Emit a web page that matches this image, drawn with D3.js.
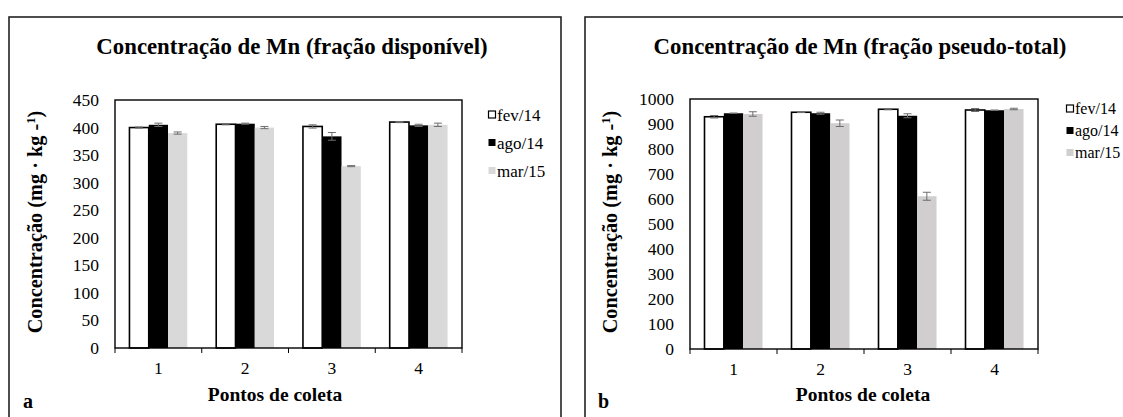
<!DOCTYPE html>
<html>
<head>
<meta charset="utf-8">
<script src="https://cdn.jsdelivr.net/npm/d3@7"></script>
<style>
  html, body { margin: 0; padding: 0; background: #fff; }
  svg { display: block; }
</style>
</head>
<body>
<svg id="chart" width="1123" height="417"></svg>
<script>
// Sampling points and sampling campaigns
const categories = ["1", "2", "3", "4"];
const seriesNames = ["fev/14", "ago/14", "mar/15"];

// Mn, available fraction (mg/kg): means and standard deviations
const dispFev = [400, 406, 402, 410];
const dispAgo = [405, 407, 384, 404];
const dispMar = [390, 400, 330, 405];
const dispFevErr = [1, 1, 3, 1];
const dispAgoErr = [3, 1, 7, 2];
const dispMarErr = [2, 2, 1, 3];
const dispTicks = [0, 50, 100, 150, 200, 250, 300, 350, 400, 450];

// Mn, pseudo-total fraction (mg/kg): means and standard deviations
const totFev = [929, 947, 959, 956];
const totAgo = [943, 943, 933, 955];
const totMar = [940, 903, 611, 960];
const totFevErr = [5, 1, 2, 6];
const totAgoErr = [1, 4, 8, 1];
const totMarErr = [9, 13, 16, 3];
const totTicks = [0, 100, 200, 300, 400, 500, 600, 700, 800, 900, 1000];

const FONT = "'Liberation Serif', 'Times New Roman', Tinos, 'DejaVu Serif', serif";

const svg = d3.select("#chart").style("font-family", FONT);

function label(sel) {
  return sel.style("font-family", FONT).attr("fill", "#000");
}

function drawPanel(opt) {
  const g = svg.append("g");

  // panel frame
  g.append("rect")
    .attr("x", opt.box[0]).attr("y", opt.box[1])
    .attr("width", opt.box[2]).attr("height", opt.box[3])
    .attr("fill", "none").attr("stroke", "#222").attr("stroke-width", 1.6);

  const x = d3.scaleBand().domain(categories).range([opt.left, opt.right]).padding(0);
  const xs = d3.scaleBand().domain(seriesNames).range([0, x.bandwidth()])
    .paddingInner(0).paddingOuter(0.75);
  const y = d3.scaleLinear().domain([0, opt.max]).range([opt.bottom, opt.top]);

  const fills = ["#ffffff", "#000000", opt.gray];
  const rows = categories.map((c, i) => ({
    cat: c,
    vals: opt.series.map((s, k) => ({ name: seriesNames[k], v: s[i], e: opt.errs[k][i], k }))
  }));

  // bars
  const grp = g.selectAll("g.cat").data(rows).join("g")
    .attr("transform", d => `translate(${x(d.cat)},0)`);

  grp.selectAll("rect").data(d => d.vals).join("rect")
    .attr("x", d => xs(d.name))
    .attr("y", d => y(d.v))
    .attr("width", xs.bandwidth())
    .attr("height", d => y(0) - y(d.v))
    .attr("fill", d => fills[d.k])
    .attr("stroke", d => d.k === 0 ? "#000" : "none")
    .attr("stroke-width", 1.6);

  // error bars
  const eb = grp.selectAll("g.err").data(d => d.vals).join("g")
    .attr("stroke", "#6e6e6e").attr("stroke-width", 1);
  eb.append("line")
    .attr("x1", d => xs(d.name) + xs.bandwidth() / 2)
    .attr("x2", d => xs(d.name) + xs.bandwidth() / 2)
    .attr("y1", d => y(d.v - d.e)).attr("y2", d => y(d.v + d.e));
  [1, -1].forEach(sgn => {
    eb.append("line")
      .attr("x1", d => xs(d.name) + xs.bandwidth() / 2 - 4)
      .attr("x2", d => xs(d.name) + xs.bandwidth() / 2 + 4)
      .attr("y1", d => y(d.v + sgn * d.e)).attr("y2", d => y(d.v + sgn * d.e));
  });

  // plot area frame
  g.append("rect")
    .attr("x", opt.left).attr("y", opt.top)
    .attr("width", opt.right - opt.left).attr("height", opt.bottom - opt.top)
    .attr("fill", "none").attr("stroke", "#000").attr("stroke-width", 1.4);

  // category boundary ticks on the x axis
  const bounds = categories.map(c => x(c)).concat([x(categories[categories.length - 1]) + x.bandwidth()]);
  g.selectAll("line.xt").data(bounds).join("line")
    .attr("x1", d => d).attr("x2", d => d)
    .attr("y1", opt.bottom).attr("y2", opt.bottom + 5)
    .attr("stroke", "#000").attr("stroke-width", 1);

  // x tick labels
  label(g.selectAll("text.xl").data(categories).join("text"))
    .attr("x", d => x(d) + x.bandwidth() / 2)
    .attr("y", opt.bottom + 26)
    .attr("text-anchor", "middle")
    .style("font-size", "17.5px")
    .text(d => d);

  // y tick labels
  label(g.selectAll("text.yl").data(opt.ticks).join("text"))
    .attr("x", opt.left - 16)
    .attr("y", d => y(d))
    .attr("dy", "0.34em")
    .attr("text-anchor", "end")
    .style("font-size", "17.5px")
    .text(d => d);

  // title
  label(g.append("text"))
    .attr("x", opt.titleX).attr("y", 54)
    .attr("text-anchor", "middle")
    .style("font-size", "22.8px").style("font-weight", "bold")
    .text(opt.title);

  // axis titles
  label(g.append("text"))
    .attr("x", opt.xTitleX).attr("y", 401)
    .attr("text-anchor", "middle")
    .style("font-size", "19.5px").style("font-weight", "bold")
    .text("Pontos de coleta");

  const yt = label(g.append("text"))
    .attr("transform", `translate(${opt.yTitleX},222) rotate(-90)`)
    .attr("text-anchor", "middle")
    .style("font-size", "20.3px").style("font-weight", "bold");
  yt.append("tspan").text("Concentração (mg · kg -");
  yt.append("tspan").attr("baseline-shift", "super").style("font-size", "12.5px").text("1");
  yt.append("tspan").text(")");

  // panel letter
  label(g.append("text"))
    .attr("x", opt.letterX).attr("y", 408)
    .style("font-size", "20px").style("font-weight", "bold")
    .text(opt.letter);

  // legend
  const lg = g.selectAll("g.leg").data(seriesNames).join("g")
    .attr("transform", (d, i) => `translate(${opt.legX},${opt.legY + i * opt.legGap})`);
  lg.append("rect")
    .attr("x", 0.5).attr("y", -4)
    .attr("width", 7).attr("height", 7)
    .attr("fill", (d, i) => fills[i])
    .attr("stroke", (d, i) => i === 0 ? "#000" : "none")
    .attr("stroke-width", 1.2);
  label(lg.append("text"))
    .attr("x", 9).attr("y", 0).attr("dy", "0.34em")
    .style("font-size", opt.legFont)
    .text(d => d);
}

drawPanel({
  box: [9, 17, 552, 420],
  left: 115, right: 462, top: 100, bottom: 348,
  max: 450, ticks: dispTicks,
  series: [dispFev, dispAgo, dispMar],
  errs: [dispFevErr, dispAgoErr, dispMarErr],
  gray: "#d9d9d9",
  title: "Concentração de Mn (fração disponível)", titleX: 292,
  xTitleX: 275, yTitleX: 42,
  letter: "a", letterX: 23,
  legX: 488, legY: 115, legGap: 28, legFont: "17px"
});

drawPanel({
  box: [585, 17, 552, 420],
  left: 690, right: 1038, top: 99, bottom: 349,
  max: 1000, ticks: totTicks,
  series: [totFev, totAgo, totMar],
  errs: [totFevErr, totAgoErr, totMarErr],
  gray: "#d0cece",
  title: "Concentração de Mn (fração pseudo-total)", titleX: 860,
  xTitleX: 863, yTitleX: 617,
  letter: "b", letterX: 598,
  legX: 1066, legY: 109, legGap: 22, legFont: "16px"
});
</script>
</body>
</html>
